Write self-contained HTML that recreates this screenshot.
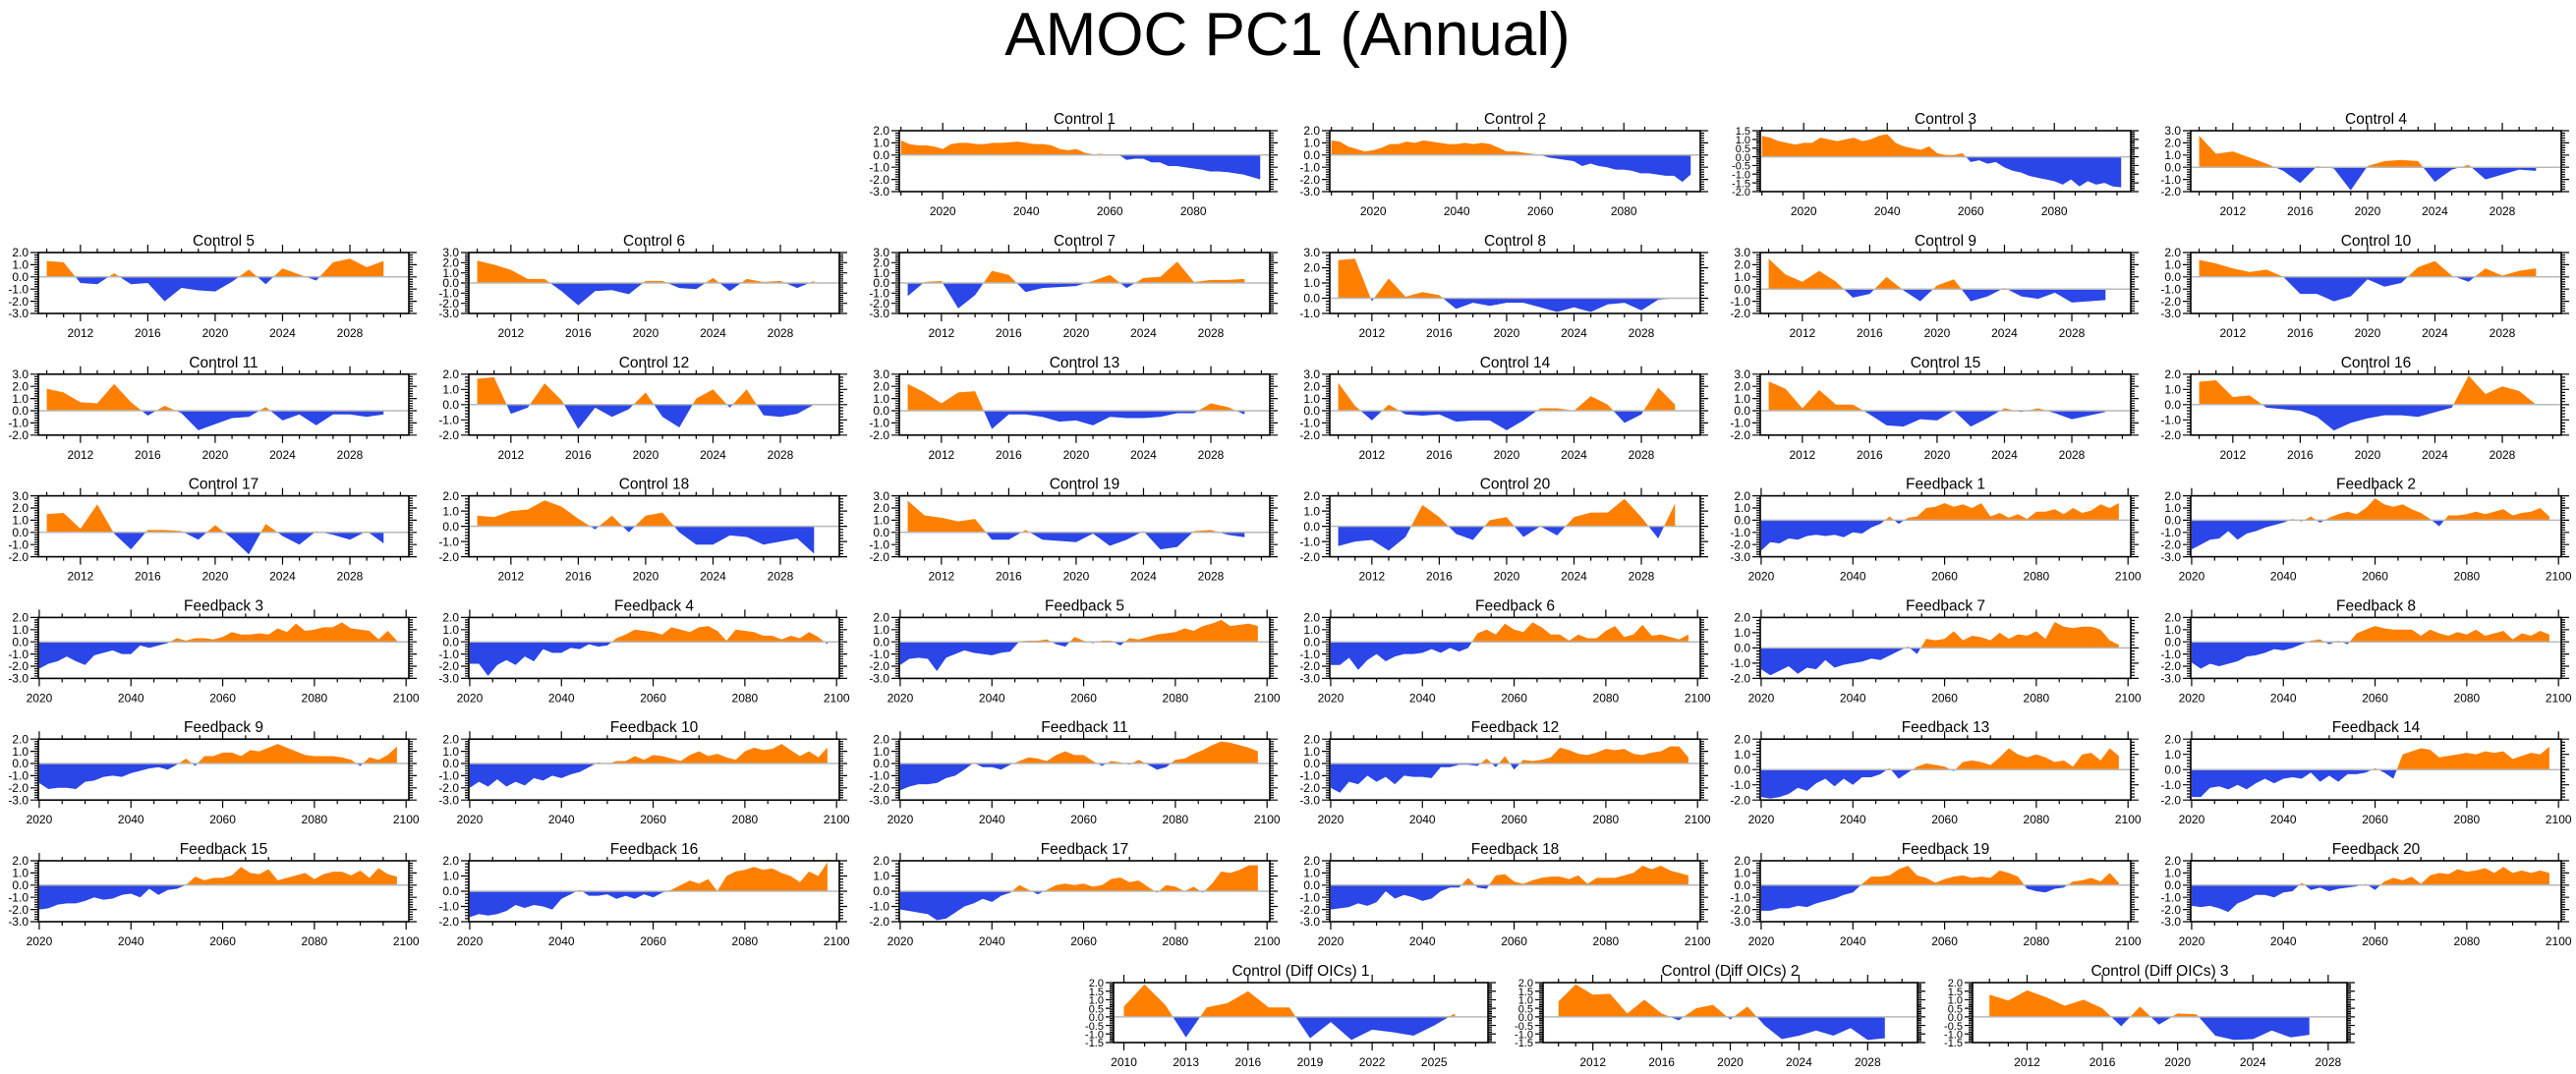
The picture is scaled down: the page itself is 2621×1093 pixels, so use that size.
<!DOCTYPE html>
<html><head><meta charset="utf-8"><style>
html,body{margin:0;padding:0;background:#fff;}
svg{display:block;font-family:"Liberation Sans",sans-serif;}
</style></head><body>
<svg id="chart" width="2621" height="1093" viewBox="0 0 2621 1093" xmlns="http://www.w3.org/2000/svg">
<text x="1310" y="56" text-anchor="middle" font-size="62" fill="#000">AMOC PC1 (Annual)</text>
</svg>
<script>
// ---- data arrays ----
const control1Values=[1.2,0.9,0.8,0.8,0.7,0.5,0.9,1.0,1.0,0.9,0.9,1.0,1.0,1.05,1.1,1.0,0.9,0.9,0.8,0.5,0.4,0.5,0.2,0.05,0.1,-0.05,0.05,-0.4,-0.3,-0.3,-0.6,-0.6,-0.9,-0.9,-1.0,-1.1,-1.2,-1.35,-1.35,-1.4,-1.5,-1.6,-1.8,-2.0];
const control2Values=[1.2,1.1,0.7,0.5,0.3,0.4,0.6,0.9,0.9,1.1,1.0,1.2,1.1,1.0,0.9,0.9,1.0,0.9,1.0,0.9,0.6,0.3,0.3,0.2,0.1,0.0,-0.2,-0.3,-0.4,-0.5,-0.9,-0.7,-0.9,-1.0,-1.2,-1.2,-1.3,-1.5,-1.5,-1.6,-1.7,-1.7,-2.2,-1.6];
const control3Values=[1.2,1.1,0.9,0.8,0.7,0.8,0.8,1.1,1.0,0.9,1.0,1.1,0.9,1.0,1.2,1.3,0.8,0.6,0.5,0.4,0.6,0.2,0.1,0.1,0.2,-0.3,-0.2,-0.4,-0.3,-0.6,-0.8,-0.9,-1.1,-1.2,-1.3,-1.4,-1.6,-1.3,-1.7,-1.4,-1.6,-1.5,-1.7,-1.75];
const control4Values=[2.6,1.1,1.3,0.8,0.3,-0.3,-1.3,0.1,-0.1,-1.9,0.1,0.5,0.6,0.5,-1.2,-0.2,0.2,-1.0,-0.6,-0.2,-0.3];
const control5Values=[1.3,1.2,-0.5,-0.6,0.3,-0.6,-0.5,-2.0,-0.9,-1.1,-1.2,-0.4,0.6,-0.6,0.7,0.2,-0.3,1.2,1.5,0.8,1.3];
const control6Values=[2.2,1.8,1.3,0.4,0.4,-0.8,-2.2,-0.8,-0.7,-1.1,0.2,0.2,-0.5,-0.6,0.5,-0.8,0.4,0.1,0.2,-0.5,0.2];
const control7Values=[-1.3,0.1,0.2,-2.5,-1.2,1.2,0.8,-0.9,-0.5,-0.4,-0.3,0.2,0.8,-0.5,0.5,0.6,2.1,0.1,0.3,0.3,0.4];
const control8Values=[2.5,2.6,-0.2,1.3,0.1,0.4,0.2,-0.7,-0.3,-0.5,-0.3,-0.3,-0.6,-0.9,-0.6,-0.9,-0.4,-0.3,-0.8,-0.1,0.0];
const control9Values=[2.5,1.2,0.6,1.5,0.6,-0.7,-0.4,1.0,-0.1,-1.0,0.3,0.8,-1.0,-0.6,0.1,-0.6,-0.8,-0.3,-1.1,-1.0,-0.9];
const control10Values=[1.4,1.1,0.7,0.4,0.6,0.0,-1.4,-1.4,-2.0,-1.6,-0.2,-0.8,-0.5,0.8,1.3,0.1,-0.4,0.7,0.1,0.5,0.7];
const control11Values=[1.8,1.5,0.7,0.6,2.2,0.7,-0.4,0.4,-0.2,-1.6,-1.1,-0.6,-0.5,0.3,-0.8,-0.3,-1.2,-0.3,-0.3,-0.5,-0.3];
const control12Values=[1.7,1.8,-0.6,-0.2,1.4,0.3,-1.6,-0.2,-0.8,-0.3,0.8,-0.8,-1.5,0.4,1.0,-0.2,1.0,-0.7,-0.8,-0.6,0.0];
const control13Values=[2.2,1.5,0.6,1.5,1.6,-1.5,-0.3,-0.3,-0.5,-0.9,-0.8,-1.2,-0.5,-0.6,-0.6,-0.5,-0.2,-0.2,0.6,0.3,-0.3];
const control14Values=[2.3,0.4,-0.8,0.5,-0.3,-0.4,-0.3,-0.9,-0.8,-0.8,-1.6,-0.8,0.2,0.2,0.0,1.2,0.5,-1.0,-0.3,1.9,0.5];
const control15Values=[2.4,1.8,0.2,1.7,0.5,0.5,-0.3,-1.2,-1.3,-0.7,-0.8,0.0,-1.3,-0.6,0.2,-0.1,0.2,-0.2,-0.7,-0.4,-0.1];
const control16Values=[1.5,1.6,0.5,0.6,-0.2,-0.3,-0.4,-0.8,-1.7,-1.2,-0.9,-0.7,-0.7,-0.8,-0.5,-0.2,1.9,0.7,1.2,0.9,0.0];
const control17Values=[1.5,1.6,0.3,2.3,-0.1,-1.4,0.2,0.2,0.1,-0.6,0.6,-0.5,-1.8,0.7,-0.3,-1.0,0.1,-0.2,-0.6,0.1,-0.9];
const control18Values=[0.7,0.6,1.0,1.1,1.7,1.3,0.5,-0.2,0.7,-0.4,0.7,0.9,-0.4,-1.2,-1.2,-0.6,-0.7,-1.2,-1.0,-0.8,-1.8];
const control19Values=[2.6,1.4,1.2,0.9,1.1,-0.6,-0.6,0.2,-0.6,-0.7,-0.8,-0.1,-1.1,-0.6,0.1,-1.4,-1.2,0.1,0.2,-0.2,-0.4];
const control20Values=[-1.3,-1.0,-0.9,-1.6,-0.7,1.4,0.6,-0.5,-0.9,0.4,0.6,-0.7,0.0,-0.6,0.6,0.9,0.9,1.8,0.6,-0.8,1.5];
const feedback1Values=[-2.5,-1.8,-1.9,-1.5,-1.6,-1.3,-1.2,-1.3,-1.2,-1.4,-1.0,-1.1,-0.6,-0.3,0.3,-0.3,0.2,0.3,1.0,1.1,1.4,1.1,1.3,1.0,1.4,0.3,0.6,0.2,0.5,0.1,0.7,0.7,0.9,0.5,1.0,0.6,0.8,1.3,1.0,1.4];
const feedback2Values=[-2.4,-2.0,-1.6,-1.5,-0.9,-1.6,-1.1,-0.9,-0.6,-0.4,-0.2,0.1,-0.1,0.3,-0.2,0.2,0.5,0.7,0.5,1.0,1.8,1.3,1.1,1.3,0.9,0.6,0.1,-0.5,0.4,0.4,0.5,0.7,0.5,0.7,0.9,0.4,0.6,0.7,1.0,0.3];
const feedback3Values=[-2.2,-1.8,-1.6,-1.2,-1.6,-1.9,-1.1,-0.9,-0.7,-1.0,-1.0,-0.3,-0.5,-0.3,-0.1,0.3,0.1,0.3,0.3,0.2,0.4,0.8,0.6,0.6,0.7,0.6,1.1,0.8,1.5,0.9,1.0,1.2,1.2,1.6,1.1,1.0,0.9,0.2,0.9,0.1];
const feedback4Values=[-1.8,-1.8,-2.8,-1.9,-1.5,-1.9,-1.2,-1.6,-0.6,-0.9,-0.9,-0.5,-0.6,-0.2,-0.4,-0.3,0.3,0.6,1.0,0.9,0.8,0.6,1.2,1.0,0.8,1.2,1.3,0.9,0.1,1.0,0.9,0.8,0.5,0.5,0.2,0.5,0.3,0.8,0.4,-0.2];
const feedback5Values=[-1.9,-1.4,-1.3,-1.4,-2.4,-1.3,-1.0,-0.7,-0.9,-1.0,-1.1,-0.9,-0.8,0.05,0.1,0.1,0.2,-0.2,-0.4,0.4,0.1,-0.1,0.1,0.1,-0.3,0.3,0.2,0.4,0.6,0.7,0.8,1.1,0.9,1.3,1.5,1.8,1.3,1.4,1.5,1.3];
const feedback6Values=[-1.9,-1.9,-1.3,-2.3,-1.5,-1.0,-1.6,-1.2,-1.0,-1.0,-0.9,-0.6,-0.9,-0.5,-0.8,-0.5,0.7,1.0,0.6,1.5,1.0,0.8,1.6,1.2,0.6,0.6,0.1,0.6,0.3,0.3,0.9,1.3,0.4,0.6,1.4,0.5,0.6,0.4,0.2,0.6];
const feedback7Values=[-1.4,-1.8,-1.5,-1.2,-1.7,-1.3,-1.4,-0.8,-1.3,-1.1,-1.0,-0.9,-0.7,-0.8,-0.5,-0.2,0.1,-0.4,0.6,0.5,0.6,1.1,0.5,0.8,0.7,0.5,1.0,0.6,0.9,0.8,1.1,0.6,1.7,1.4,1.3,1.4,1.4,1.2,0.5,0.2];
const feedback8Values=[-1.7,-2.2,-1.8,-2.0,-1.8,-1.6,-1.2,-1.1,-0.9,-0.6,-0.7,-0.5,-0.2,0.1,0.2,-0.2,0.1,-0.2,0.7,1.0,1.3,1.1,1.0,1.0,1.0,0.5,1.0,0.7,0.5,0.8,0.6,1.0,0.5,0.7,0.9,0.2,0.7,0.5,0.9,0.6];
const feedback9Values=[-1.6,-2.1,-2.0,-2.0,-2.1,-1.5,-1.4,-1.1,-1.0,-1.1,-0.8,-0.6,-0.4,-0.3,-0.5,-0.1,0.4,-0.2,0.6,0.6,0.9,0.9,0.6,1.1,1.0,1.3,1.6,1.3,1.0,0.7,0.6,0.6,0.6,0.5,0.3,-0.2,0.5,0.3,0.7,1.4];
const feedback10Values=[-2.0,-1.5,-1.9,-1.3,-1.9,-1.5,-1.8,-1.2,-1.4,-1.0,-1.2,-0.9,-0.7,-0.3,0.1,-0.05,0.2,0.2,0.6,0.3,0.7,0.6,0.4,0.2,0.7,1.0,0.6,0.8,0.5,0.3,1.0,1.3,1.1,1.2,1.6,1.1,0.6,1.0,0.5,1.3];
const feedback11Values=[-2.2,-1.9,-1.7,-1.7,-1.6,-1.2,-1.0,-0.5,0.05,-0.3,-0.3,-0.5,-0.1,0.2,0.5,0.4,0.2,0.7,1.0,0.7,0.7,0.2,-0.2,0.2,0.1,-0.1,0.3,-0.1,-0.5,-0.3,0.3,0.4,0.8,1.1,1.5,1.8,1.7,1.5,1.3,1.0];
const feedback12Values=[-2.0,-2.4,-1.5,-1.7,-1.0,-1.5,-1.1,-1.7,-1.0,-1.1,-1.1,-1.2,-0.3,-0.3,-0.1,-0.1,-0.2,0.4,-0.3,0.6,-0.5,0.3,0.2,0.3,0.5,1.3,1.1,0.8,0.7,0.9,1.2,1.1,1.2,0.8,0.7,0.9,1.0,1.4,1.4,0.5];
const feedback13Values=[-1.8,-1.9,-1.8,-1.6,-1.2,-1.4,-0.9,-0.6,-1.1,-0.6,-1.0,-0.5,-0.5,-0.3,0.1,-0.6,-0.2,0.2,0.4,0.3,0.2,-0.1,0.5,0.6,0.5,0.3,0.8,1.4,1.0,0.8,1.0,0.8,0.5,0.6,0.2,1.0,1.1,0.6,1.4,0.9];
const feedback14Values=[-1.8,-1.8,-1.2,-1.1,-1.3,-1.0,-1.3,-0.9,-0.6,-0.9,-0.6,-0.5,-0.6,-0.2,-0.8,-0.4,-0.8,-0.3,-0.3,-0.2,0.1,-0.2,-0.6,1.0,1.2,1.4,1.3,0.8,0.9,1.0,1.1,1.0,1.2,1.1,1.2,0.7,0.9,1.1,1.0,1.5];
const feedback15Values=[-2.0,-1.9,-1.6,-1.5,-1.5,-1.3,-1.0,-1.2,-1.1,-0.8,-0.7,-1.0,-0.3,-0.8,-0.4,-0.3,0.0,0.7,0.4,0.6,0.6,0.8,1.5,1.0,0.9,1.3,0.4,0.6,0.8,1.0,0.5,0.9,1.1,1.1,0.8,1.2,0.6,1.4,0.9,0.7];
const feedback16Values=[-1.7,-1.5,-1.6,-1.5,-1.3,-0.9,-1.1,-0.9,-1.0,-1.2,-0.5,-0.2,0.1,-0.3,-0.3,-0.2,-0.5,-0.3,-0.5,-0.2,-0.4,-0.1,0.1,0.4,0.7,0.5,0.8,0.0,1.0,1.3,1.4,1.6,1.4,1.5,1.2,1.0,0.6,1.3,1.0,1.9];
const feedback17Values=[-1.2,-1.3,-1.4,-1.5,-1.9,-1.8,-1.4,-1.0,-0.8,-0.5,-0.7,-0.3,-0.1,0.4,0.1,-0.2,0.1,0.4,0.5,0.4,0.5,0.3,0.4,0.8,0.9,0.6,0.7,0.3,-0.1,0.4,0.3,0.0,0.3,-0.1,0.5,1.3,1.2,1.4,1.7,1.7];
const feedback18Values=[-2.0,-1.9,-1.8,-1.5,-1.7,-1.4,-0.5,-1.1,-0.8,-1.0,-1.3,-1.1,-0.5,-0.2,-0.2,0.6,-0.2,-0.3,0.8,0.9,0.3,0.1,0.4,0.6,0.7,0.7,0.5,0.8,0.1,0.6,0.6,0.6,0.8,1.0,1.6,1.3,1.6,1.2,1.0,0.8];
const feedback19Values=[-2.1,-2.1,-1.9,-1.9,-1.7,-1.8,-1.5,-1.3,-1.1,-0.8,-0.6,0.1,0.7,0.7,0.8,1.3,1.6,0.8,0.6,0.2,0.5,0.7,0.8,0.6,0.7,0.6,1.2,1.0,0.7,-0.3,-0.5,-0.6,-0.3,-0.2,0.3,0.4,0.6,0.3,1.0,0.2];
const feedback20Values=[-1.7,-1.8,-1.7,-1.9,-2.2,-1.5,-1.2,-0.8,-0.8,-1.0,-0.6,-0.5,0.2,-0.4,-0.2,-0.5,-0.3,-0.2,-0.1,0.1,-0.4,0.3,0.6,0.4,0.7,0.1,0.8,1.0,0.9,1.3,1.1,1.2,1.4,1.0,1.5,1.0,1.2,1.0,1.2,1.0];
const diff1Values=[0.6,1.9,0.7,-1.2,0.55,0.8,1.5,0.55,0.55,-1.25,-0.3,-1.35,-0.75,-0.9,-1.1,-0.5,0.2];
const diff2Values=[0.9,1.9,1.3,1.35,0.2,1.0,0.2,-0.2,0.5,0.7,-0.15,0.6,-0.5,-1.3,-1.1,-0.8,-1.1,-0.65,-1.35,-1.25];
const diff3Values=[1.3,0.95,1.55,1.15,0.65,1.0,0.5,-0.55,0.6,-0.45,0.2,0.15,-1.1,-1.35,-1.3,-0.8,-1.2,-1.05];

// ---- panel layout / axis specs ----
const NS="http://www.w3.org/2000/svg";
const svg=document.getElementById('chart');
const AX_LONG={xmin:2009.6,xmax:2098.3,start:2010,step:2,maj0:2020,maj1:2080,majStep:20,min0:2010,min1:2095,minStep:5};
const AX_SHORT={xmin:2009.5,xmax:2031.5,start:2010,step:1,maj0:2012,maj1:2028,majStep:4,min0:2010,min1:2031,minStep:1};
const AX_FB={xmin:2019.8,xmax:2100.6,start:2020,step:2,maj0:2020,maj1:2100,majStep:20,min0:2020,min1:2100,minStep:5};
const AX_D1={xmin:2009.5,xmax:2027.6,start:2010,step:1,maj0:2010,maj1:2025,majStep:3,min0:2010,min1:2027,minStep:1};
const AX_D2={xmin:2009.1,xmax:2030.9,start:2010,step:1,maj0:2012,maj1:2028,majStep:4,min0:2010,min1:2030,minStep:1};
const AX_D3={xmin:2009.1,xmax:2029.0,start:2010,step:1,maj0:2012,maj1:2028,majStep:4,min0:2010,min1:2028,minStep:1};
function colX(c){return 39+438*c;}
function rowY(r){return r===0?133:257+123.8*(r-1);}
const panels=[
 ['Control 1',control1Values,AX_LONG,-3,2,1,2,0],
 ['Control 2',control2Values,AX_LONG,-3,2,1,3,0],
 ['Control 3',control3Values,AX_LONG,-2,1.5,0.5,4,0],
 ['Control 4',control4Values,AX_SHORT,-2,3,1,5,0],
 ['Control 5',control5Values,AX_SHORT,-3,2,1,0,1],
 ['Control 6',control6Values,AX_SHORT,-3,3,1,1,1],
 ['Control 7',control7Values,AX_SHORT,-3,3,1,2,1],
 ['Control 8',control8Values,AX_SHORT,-1,3,1,3,1],
 ['Control 9',control9Values,AX_SHORT,-2,3,1,4,1],
 ['Control 10',control10Values,AX_SHORT,-3,2,1,5,1],
 ['Control 11',control11Values,AX_SHORT,-2,3,1,0,2],
 ['Control 12',control12Values,AX_SHORT,-2,2,1,1,2],
 ['Control 13',control13Values,AX_SHORT,-2,3,1,2,2],
 ['Control 14',control14Values,AX_SHORT,-2,3,1,3,2],
 ['Control 15',control15Values,AX_SHORT,-2,3,1,4,2],
 ['Control 16',control16Values,AX_SHORT,-2,2,1,5,2],
 ['Control 17',control17Values,AX_SHORT,-2,3,1,0,3],
 ['Control 18',control18Values,AX_SHORT,-2,2,1,1,3],
 ['Control 19',control19Values,AX_SHORT,-2,3,1,2,3],
 ['Control 20',control20Values,AX_SHORT,-2,2,1,3,3],
 ['Feedback 1',feedback1Values,AX_FB,-3,2,1,4,3],
 ['Feedback 2',feedback2Values,AX_FB,-3,2,1,5,3],
 ['Feedback 3',feedback3Values,AX_FB,-3,2,1,0,4],
 ['Feedback 4',feedback4Values,AX_FB,-3,2,1,1,4],
 ['Feedback 5',feedback5Values,AX_FB,-3,2,1,2,4],
 ['Feedback 6',feedback6Values,AX_FB,-3,2,1,3,4],
 ['Feedback 7',feedback7Values,AX_FB,-2,2,1,4,4],
 ['Feedback 8',feedback8Values,AX_FB,-3,2,1,5,4],
 ['Feedback 9',feedback9Values,AX_FB,-3,2,1,0,5],
 ['Feedback 10',feedback10Values,AX_FB,-3,2,1,1,5],
 ['Feedback 11',feedback11Values,AX_FB,-3,2,1,2,5],
 ['Feedback 12',feedback12Values,AX_FB,-3,2,1,3,5],
 ['Feedback 13',feedback13Values,AX_FB,-2,2,1,4,5],
 ['Feedback 14',feedback14Values,AX_FB,-2,2,1,5,5],
 ['Feedback 15',feedback15Values,AX_FB,-3,2,1,0,6],
 ['Feedback 16',feedback16Values,AX_FB,-2,2,1,1,6],
 ['Feedback 17',feedback17Values,AX_FB,-2,2,1,2,6],
 ['Feedback 18',feedback18Values,AX_FB,-3,2,1,3,6],
 ['Feedback 19',feedback19Values,AX_FB,-3,2,1,4,6],
 ['Feedback 20',feedback20Values,AX_FB,-3,2,1,5,6],
 ['Control (Diff OICs) 1',diff1Values,AX_D1,-1.5,2,0.5,-1,7],
 ['Control (Diff OICs) 2',diff2Values,AX_D2,-1.5,2,0.5,-2,7],
 ['Control (Diff OICs) 3',diff3Values,AX_D3,-1.5,2,0.5,-3,7]
];
function mk(tag,attrs,parent){const e=document.createElementNS(NS,tag);for(const k in attrs)e.setAttribute(k,attrs[k]);(parent||svg).appendChild(e);return e;}
function slug(s){return s.toLowerCase().replace(/[^a-z0-9]+/g,'-').replace(/-$/,'');}

panels.forEach((p,idx)=>{
 const [title,vals,ax,ymin,ymax,ystep,col,row]=p;
 let X0,Y0,W,H;
 if(row===7){X0=[1133,1570,2007][-col-1];Y0=1000;W=381;H=61;}
 else{X0=colX(col);Y0=rowY(row);W=377;H=62;}
 const xs=v=>X0+(v-ax.xmin)/(ax.xmax-ax.xmin)*W;
 const ys=v=>Y0+(ymax-v)/(ymax-ymin)*H;
 const g=mk('g',{});
 
 
 const t=mk('text',{x:X0+W/2,y:Y0-7,'text-anchor':'middle','font-size':15.5,fill:'#000'},g);
 t.textContent=title;
 
 
 const cid='c'+idx;
 const defs=mk('defs',{},g);
 const c1=mk('clipPath',{id:cid+'p'},defs);mk('rect',{x:X0,y:Y0,width:W,height:ys(0)-Y0},c1);
 const c2=mk('clipPath',{id:cid+'n'},defs);mk('rect',{x:X0,y:ys(0),width:W,height:Y0+H-ys(0)},c2);
 let pts=[];
 vals.forEach((v,i)=>{pts.push(xs(ax.start+i*ax.step).toFixed(2)+','+ys(v).toFixed(2));});
 const xa=xs(ax.start),xb=xs(ax.start+(vals.length-1)*ax.step);
 const poly=xa.toFixed(2)+','+ys(0).toFixed(2)+' '+pts.join(' ')+' '+xb.toFixed(2)+','+ys(0).toFixed(2);
 const pa=mk('polygon',{points:poly,fill:'#ff8000','clip-path':'url(#'+cid+'p)'},g);
 
 
 const na=mk('polygon',{points:poly,fill:'#2a45e8','clip-path':'url(#'+cid+'n)'},g);
 
 
 const zl=mk('line',{x1:X0,x2:X0+W,y1:ys(0),y2:ys(0),stroke:'#b8b8b8','stroke-width':1.5},g);
 
 
 const box=mk('rect',{x:X0,y:Y0,width:W,height:H,fill:'none',stroke:'#000','stroke-width':1.6},g);
 
 
 let d='';
 for(let v=ax.min0;v<=ax.min1+1e-6;v+=ax.minStep){const x=xs(v);if(x<X0-0.5||x>X0+W+0.5)continue;d+=`M${x},${Y0}v-4M${x},${Y0+H}v4`;}
 for(let v=ax.maj0;v<=ax.maj1+1e-6;v+=ax.majStep){const x=xs(v);d+=`M${x},${Y0}v-8M${x},${Y0+H}v8`;}
 const ym=ystep/5;
 for(let v=ymin;v<=ymax+1e-6;v+=ym){const y=ys(v);d+=`M${X0},${y}h-4M${X0+W},${y}h4`;}
 for(let v=ymin;v<=ymax+1e-6;v+=ystep){const y=ys(v);d+=`M${X0},${y}h-8M${X0+W},${y}h8`;}
 const tk=mk('path',{d:d,stroke:'#000','stroke-width':1.2,fill:'none'},g);
 
 
 const fs=(ystep<1)?11:12;
 for(let v=ymin;v<=ymax+1e-6;v+=ystep){
  const l=mk('text',{x:X0-10,y:ys(v)+4.2,'text-anchor':'end','font-size':fs,fill:'#000'},g);
  l.textContent=(Math.abs(v)<1e-9?0:v).toFixed(1);
  
  
 }
 for(let v=ax.maj0;v<=ax.maj1+1e-6;v+=ax.majStep){
  const l=mk('text',{x:xs(v),y:Y0+H+24,'text-anchor':'middle','font-size':12,fill:'#000'},g);
  l.textContent=String(v);
  
  
 }
});
</script>
</body></html>
